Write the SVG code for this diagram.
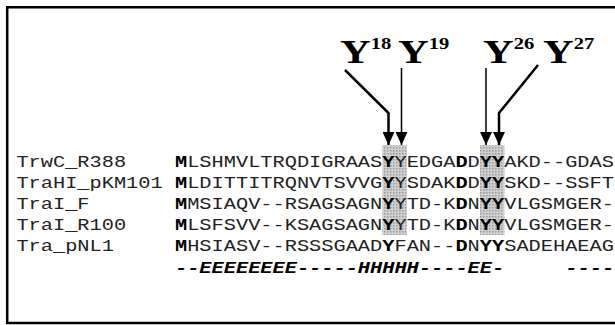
<svg xmlns="http://www.w3.org/2000/svg" width="615" height="325" viewBox="0 0 615 325">
<style>
.seq{font-family:"Liberation Mono","DejaVu Sans Mono",monospace;font-size:16.5px;fill:#222}
.b{font-weight:bold;fill:#000}
.ss{font-family:"Liberation Mono","DejaVu Sans Mono",monospace;font-size:16.5px;font-weight:bold;font-style:italic;fill:#000}
.ylab{font-family:"Liberation Serif","Times New Roman",serif;font-weight:bold;font-size:34px;fill:#000}
.sup{font-size:16.5px}
.thick{stroke:#000;stroke-width:2.5;fill:none}
.thin{stroke:#000;stroke-width:1.5;fill:none}
</style>
<defs>
<pattern id="dots" width="3" height="3" patternUnits="userSpaceOnUse">
<rect width="3" height="3" fill="#d0d0d0"/>
<rect width="1.5" height="1.5" fill="#999"/>
</pattern>
<marker id="ah" markerWidth="13" markerHeight="12" refX="12" refY="5.5" orient="auto" markerUnits="userSpaceOnUse" viewBox="0 0 12 11">
<path d="M0,0 L12,5.5 L0,11 Z" fill="#000"/>
</marker>
</defs>
<rect width="615" height="325" fill="#fff"/>
<path id="frame" d="M630,7.2 H7.2 V323 H630" fill="none" stroke="#000" stroke-width="2.5"/>

<g id="shading">
<rect x="382.4" y="145" width="24.4" height="90" fill="url(#dots)"/>
<rect x="480" y="145" width="24.4" height="90" fill="url(#dots)"/>
</g>

<g id="labels">
<g id="Y18" transform="translate(340,63) scale(1.25 1)"><text class="ylab">Y<tspan class="sup" dy="-14">18</tspan></text></g>
<g id="Y19" transform="translate(398,63) scale(1.25 1)"><text class="ylab">Y<tspan class="sup" dy="-14">19</tspan></text></g>
<g id="Y26" transform="translate(483,63) scale(1.25 1)"><text class="ylab">Y<tspan class="sup" dy="-14">26</tspan></text></g>
<g id="Y27" transform="translate(543,63) scale(1.25 1)"><text class="ylab">Y<tspan class="sup" dy="-14">27</tspan></text></g>
</g>

<g id="connectors">
<polyline class="thick" points="345,70 388.5,113 388.5,145" marker-end="url(#ah)"/>
<line class="thin" x1="401.5" y1="68" x2="401.5" y2="145" marker-end="url(#ah)"/>
<line class="thin" x1="486" y1="68" x2="486" y2="145" marker-end="url(#ah)"/>
<polyline class="thick" points="538,65 499,113 499,145" marker-end="url(#ah)"/>
</g>

<g id="alignment" transform="scale(1.2323 1)">
<g id="row1"><text class="seq" x="13.3" y="167.5">TrwC_R388</text><text class="seq" x="142" y="167.5"><tspan class="b">M</tspan>LSHMVLTRQDIGRAAS<tspan class="b">Y</tspan>YEDGA<tspan class="b">D</tspan>D<tspan class="b">YY</tspan>AKD--GDAS</text></g>
<g id="row2"><text class="seq" x="13.3" y="188.5">TraHI_pKM101</text><text class="seq" x="142" y="188.5"><tspan class="b">M</tspan>LDITTITRQNVTSVVG<tspan class="b">Y</tspan>YSDAK<tspan class="b">D</tspan>D<tspan class="b">YY</tspan>SKD--SSFT</text></g>
<g id="row3"><text class="seq" x="13.3" y="209.5">TraI_F</text><text class="seq" x="142" y="209.5"><tspan class="b">M</tspan>MSIAQV--RSAGSAGN<tspan class="b">Y</tspan>YTD-K<tspan class="b">D</tspan>N<tspan class="b">YY</tspan>VLGSMGER-</text></g>
<g id="row4"><text class="seq" x="13.3" y="230.5">TraI_R100</text><text class="seq" x="142" y="230.5"><tspan class="b">M</tspan>LSFSVV--KSAGSAGN<tspan class="b">Y</tspan>YTD-K<tspan class="b">D</tspan>N<tspan class="b">YY</tspan>VLGSMGER-</text></g>
<g id="row5"><text class="seq" x="13.3" y="251.5">Tra_pNL1</text><text class="seq" x="142" y="251.5"><tspan class="b">M</tspan>HSIASV--RSSSGAAD<tspan class="b">Y</tspan>FAN--<tspan class="b">D</tspan>N<tspan class="b">YY</tspan>SADEHAEAG</text></g>
<g id="ss"><text class="ss" x="142" y="273">--EEEEEEEE-----HHHHH----EE-</text><text class="ss" x="458.8" y="273">----</text></g>
</g>
</svg>
